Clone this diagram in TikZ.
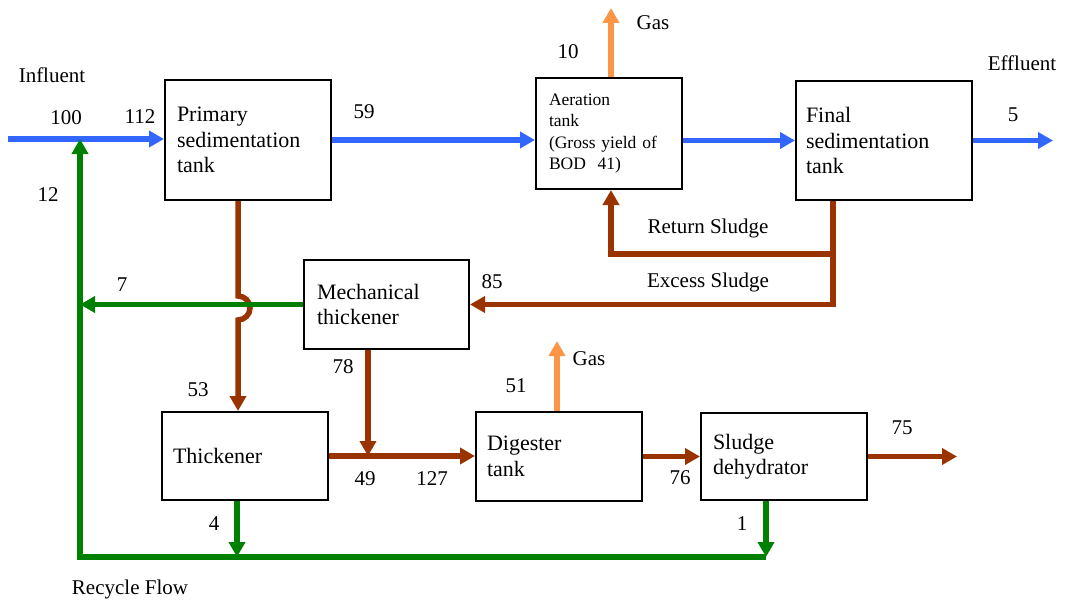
\documentclass[tikz,border=0pt]{standalone}
\usepackage{fontspec}
\setmainfont{Liberation Serif}
\usetikzlibrary{arrows.meta,calc}
\definecolor{flowblue}{RGB}{51,102,255}
\definecolor{sludgebrown}{RGB}{153,51,0}
\definecolor{recycgreen}{RGB}{0,128,0}
\definecolor{gasorange}{RGB}{250,150,70}
\begin{document}
\begin{tikzpicture}[x=1pt,y=-1pt,
  every node/.style={font=\fontsize{21}{25}\selectfont},
  box/.style={draw, line width=2pt, rectangle, align=left, inner ysep=0pt, inner xsep=12pt, font=\fontsize{22}{25.5}\selectfont},
  lbl/.style={inner sep=0pt},
  tip/.style={-{Triangle[length=15pt,width=16pt]}},
  bluef/.style={draw=flowblue, line width=5.5pt, tip},
  sludgef/.style={draw=sludgebrown, line width=5.5pt, tip},
  greenf/.style={draw=recycgreen, line width=5.5pt, tip, line join=miter},
  gasf/.style={draw=gasorange, line width=5.5pt, tip}]
\useasboundingbox (0,0) rectangle (1065,602);

% boxes
\node[box, minimum width=166pt, text width=142pt, minimum height=120pt] (pst) at (248,140) {Primary\\sedimentation\\tank};
\node[box, minimum width=146pt, text width=120pt, minimum height=111pt, inner xsep=13pt, font=\fontsize{17.5}{21.5}\selectfont] (aer) at (609,133.5) {Aeration\\tank\\(Gross yield of\\BOD\ \ 41)};
\node[box, minimum width=176pt, text width=156pt, minimum height=119pt, inner xsep=10pt] (fin) at (884,140.5) {Final\\sedimentation\\tank};
\node[box, minimum width=165pt, text width=139pt, minimum height=89pt, inner xsep=13pt] (mth) at (386.5,304.5) {Mechanical\\thickener};
\node[box, minimum width=166pt, text width=144pt, minimum height=88pt, inner xsep=11pt] (thk) at (245,456) {Thickener};
\node[box, minimum width=166pt, text width=144pt, minimum height=89pt, inner xsep=11pt] (dig) at (559,456.5) {Digester\\tank};
\node[box, minimum width=166pt, text width=142pt, minimum height=87pt, inner xsep=12pt] (deh) at (784,456.5) {Sludge\\dehydrator};

% free ends and bends
\coordinate (inf) at (8,139);
\coordinate (rc) at (80,557);
\coordinate (eff) at (1053,140.5);
\coordinate (gasA) at (611,8);
\coordinate (ret) at (833,254);
\coordinate (gasD) at (557,341);
\coordinate (sout) at (957,456.5);
\coordinate (fs) at ([xshift=-51pt]fin.south);
\coordinate (m78) at ([xshift=-18.5pt]mth.south);
\coordinate (t4) at ([xshift=-8pt]thk.south);
\coordinate (d1) at ([xshift=-18pt]deh.south);
\coordinate (p53) at ([xshift=-10pt]pst.south);

% blue flow
\draw[bluef] (inf) -- (inf -| pst.west);
\draw[bluef] (pst.east) -- (pst.east -| aer.west);
\draw[bluef] (aer.east |- fin.west) -- (fin.west);
\draw[bluef] (fin.east) -- (eff);

% gas
\draw[gasf] (gasA |- aer.north) -- (gasA);
\draw[gasf] (gasD |- dig.north) -- (gasD);

% sludge
\draw[sludgef] (fs) |- (mth.east);
\draw[sludgef] (ret) -| (gasA |- aer.south);
\draw[sludgef] (p53) -- ++(0,95) arc[start angle=90,end angle=-90,radius=12pt] -- ([xshift=-7pt]thk.north);
\draw[sludgef] (m78) -- (m78 |- thk.east);
\draw[sludgef] (thk.east) -- (thk.east -| dig.west);
\draw[sludgef] (dig.east) -- (dig.east -| deh.west);
\draw[sludgef] (deh.east) -- (sout);

% recycle
\draw[greenf] (mth.west) -- (mth.west -| rc);
\draw[greenf] (t4) -- (t4 |- rc);
\draw[greenf] (d1) -- (d1 |- rc);
\draw[greenf] (d1 |- rc) -- (rc) -- (rc |- inf);

% labels
\node[lbl] (tInf) at (52,75) {Influent};
\node[lbl] (t100) at (66,118) {100};
\node[lbl] (t112) at (140,117) {112};
\node[lbl] (t12) at (48,195) {12};
\node[lbl] (t59) at (364,112) {59};
\node[lbl] (t10) at (568,52) {10};
\node[lbl] (tGasA) at (653,23) {Gas};
\node[lbl] (tEff) at (1022,63) {Effluent};
\node[lbl] (t5) at (1013,115) {5};
\node[lbl] (tRet) at (708,228) {Return Sludge};
\node[lbl] (tExc) at (708,282) {Excess Sludge};
\node[lbl] (t85) at (492,282) {85};
\node[lbl] (t7) at (122,285) {7};
\node[lbl] (t53) at (198,390) {53};
\node[lbl] (t78) at (343,367) {78};
\node[lbl] (tGasD) at (589,359) {Gas};
\node[lbl] (t51) at (516,386) {51};
\node[lbl] (t49) at (365,479) {49};
\node[lbl] (t127) at (432,479) {127};
\node[lbl] (t76) at (680,478) {76};
\node[lbl] (t75) at (902,428) {75};
\node[lbl] (t4l) at (214,524) {4};
\node[lbl] (t1l) at (742,524) {1};
\node[lbl] (tRec) at (130,589) {Recycle Flow};
\end{tikzpicture}
\end{document}
